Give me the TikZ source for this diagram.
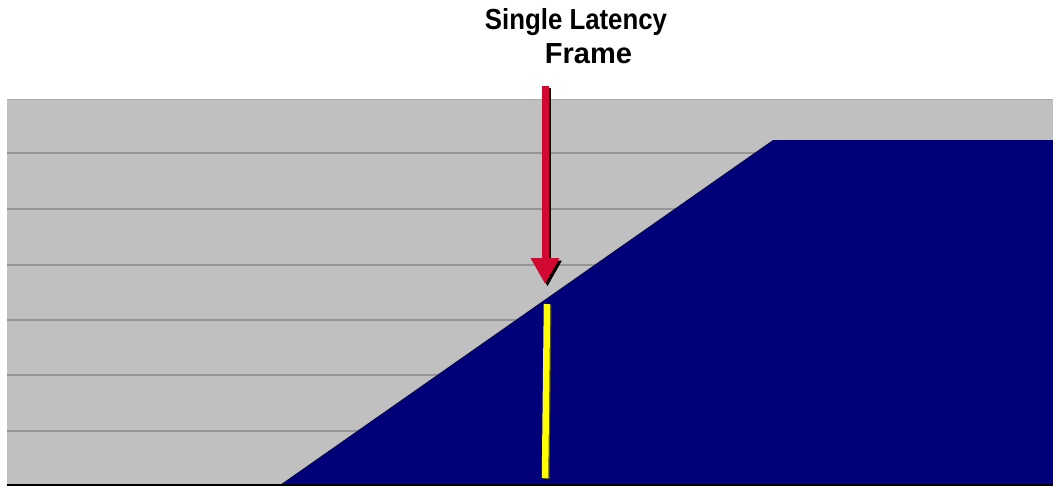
\documentclass[tikz,border=0pt]{standalone}
\usepackage{fontspec}
\setmainfont{Liberation Sans}
\usepackage{xcolor}
\usepackage{graphicx}
\usetikzlibrary{arrows.meta, positioning}
\definecolor{panel}{RGB}{192,192,192}
\definecolor{gridline}{RGB}{150,150,150}
\definecolor{ramp}{RGB}{0,0,120}
\definecolor{marker}{RGB}{210,10,50}
\definecolor{frameline}{RGB}{255,255,0}

\begin{document}
\begin{tikzpicture}[x=1pt,y=-1pt]
			\tikzstyle{title}=[font=\fontsize{29}{30}\selectfont\bfseries, inner sep=0pt, anchor=base]
			\tikzstyle{grid}=[gridline, line width=2pt]
			\tikzstyle{pointer}=[line width=7pt, -{Triangle[width=27pt,length=26pt]}]
			
			\useasboundingbox (0,0) rectangle (1053,487);
			
			% panel with the grid lines
			\fill[panel] (7,99) rectangle (1053,485);
			\draw[gridline!80, line width=1pt] (7,99.5) -- (1053,99.5);
			\foreach \y in {153,209,265,320,375,431}
				\draw[grid] (7,\y) -- (1053,\y);
			
			% latency ramp
			\fill[ramp] (280,485) -- (773,140) -- (1053,140) -- (1053,485) -- cycle;
			\draw[black, line width=2pt] (7,485) -- (1053,485);
			
			% labels
			\node[title] (T1) at (576,30) {\scalebox{0.89}[1]{Single Latency}};
			\node[title] (T2) at (588.5,63.5) {Frame};
			
			\coordinate (P0) at (545,86);
			\coordinate (P1) at (545,284);
			\coordinate (Y0) at (547,304);
			\coordinate (Y1) at (545,478);
			
			% red arrow with shadow
			\draw[pointer, black] ([shift={(2.5,2.5)}]P0) -- ([shift={(2.5,2.5)}]P1);
			\draw[pointer, marker] (P0) -- (P1);
			
			% yellow frame line
			\draw[black!70, line width=7pt] ([shift={(1,1)}]Y0) -- ([shift={(1,1)}]Y1);
			\draw[frameline, line width=6.5pt] (Y0) -- (Y1);
		\end{tikzpicture}
\end{document}
